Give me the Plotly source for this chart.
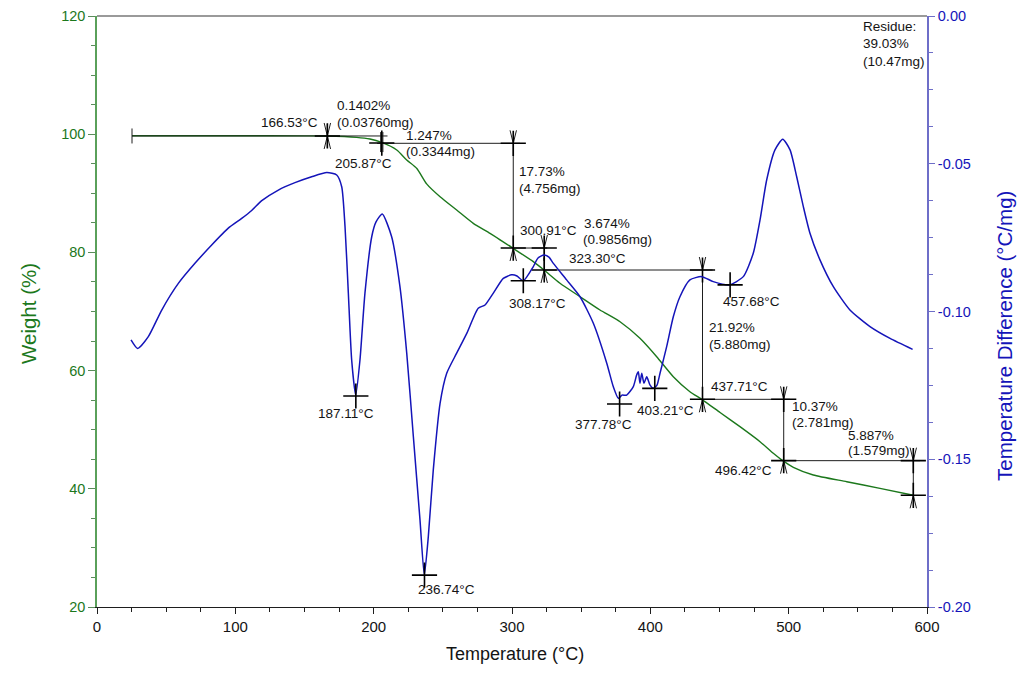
import plotly.graph_objects as go

# ---------------- data ----------------
# TGA weight curve (left axis)
tga_temp = [25.3, 60, 100, 150, 166.5, 187.7, 197.3, 205.8, 216.7, 223.9, 231.2, 238.3,
            248.0, 260.0, 272.0, 284.1, 300.5, 315.4, 323.1, 334.7, 349.2, 363.6, 378.1,
            392.5, 404.6, 416.6, 428.6, 437.1, 450.4, 464.8, 479.3, 488.9, 495.7, 503.4,
            517.8, 542.0, 566.0, 590.1]
tga_weight = [99.74, 99.74, 99.73, 99.72, 99.70, 99.47, 99.19, 98.60, 97.33, 95.63, 94.20, 91.60,
              89.42, 87.17, 84.92, 83.23, 80.74, 78.43, 77.02, 74.77, 72.50, 70.25, 68.27,
              65.46, 62.35, 58.97, 56.43, 55.14, 52.91, 50.51, 47.97, 46.01, 44.76, 43.64,
              42.34, 41.20, 40.08, 38.90]

# DTA curve (right axis)
dta_temp = [24.6, 29.4, 37.1, 46.8, 58.8, 70.8, 82.9, 94.9, 104.6, 111.8, 119.1, 131.1, 143.1,
            155.2, 166.1, 173.3, 176.9, 179.3, 181.7, 184.1, 187.0, 190.1, 193.7, 198.6, 201.7,
            206.2, 213.0, 219.0, 223.9, 228.7, 233.5, 236.6, 239.5, 243.1, 248.0, 252.8, 260.0,
            267.3, 275.6, 280.5, 286.5, 293.7, 299.8, 303.6, 308.2, 315.4, 318.8, 323.1, 326.7,
            329.9, 339.5, 349.2, 358.8, 368.5, 373.2, 376.9, 379.5, 382.9, 387.7, 390.1, 391.3,
            392.5, 393.8, 395.4, 397.4, 399.8, 402.2, 404.8, 407.0, 411.8, 416.6, 421.4, 428.6,
            437.1, 445.5, 457.1, 467.2, 474.4, 479.3, 484.1, 490.1, 495.7, 501.0, 505.8, 510.6,
            515.4, 522.7, 532.3, 544.3, 558.8, 573.3, 589.6]
dta_value = [-0.1096, -0.1125, -0.1085, -0.0995, -0.0905, -0.0837, -0.0775, -0.0718, -0.0685,
             -0.0658, -0.0625, -0.0589, -0.0564, -0.0544, -0.0530, -0.0538, -0.0578, -0.0713,
             -0.0938, -0.1164, -0.1283, -0.1164, -0.0938, -0.0747, -0.0697, -0.0670, -0.0747,
             -0.0916, -0.1141, -0.1424, -0.1706, -0.1892, -0.1762, -0.1536, -0.1311, -0.1209,
             -0.1141, -0.1074, -0.0989, -0.0978, -0.0938, -0.0888, -0.0876, -0.0880, -0.0896,
             -0.0848, -0.0819, -0.0809, -0.0816, -0.0837, -0.0893, -0.0950, -0.1040, -0.1175,
             -0.1254, -0.1294, -0.1283, -0.1283, -0.1254, -0.1215, -0.1204, -0.1243, -0.1209,
             -0.1243, -0.1221, -0.1249, -0.1260, -0.1249, -0.1209, -0.1119, -0.1018, -0.0950,
             -0.0893, -0.0882, -0.0899, -0.0910, -0.0882, -0.0803, -0.0690, -0.0555, -0.0453,
             -0.0417, -0.0453, -0.0544, -0.0645, -0.0735, -0.0826, -0.0916, -0.0995, -0.1051,
             -0.1091, -0.1128]

# measurement marks on TGA curve
tga_mark_temp = [166.53, 205.87, 300.91, 300.91, 323.30, 323.30, 437.71, 437.71, 496.42, 496.42, 590.1, 590.1]
tga_mark_weight = [99.70, 98.50, 98.46, 80.74, 80.74, 77.02, 77.02, 55.14, 55.14, 44.76, 44.76, 38.90]

# peak marks on DTA curve
dta_mark_temp = [187.11, 236.74, 308.17, 377.78, 403.21, 457.68]
dta_mark_value = [-0.1286, -0.1892, -0.0896, -0.1313, -0.1260, -0.0910]

# horizontal level lines: (start T, end T, weight)
level_start = [25.3, 202.5, 300.5, 323.3, 437.7, 496.4]
level_end = [210.0, 305.8, 325.5, 445.0, 500.9, 595.0]
level_weight = [99.70, 98.46, 80.74, 77.02, 55.14, 44.76]

# vertical step arrows: (T, upper weight, lower weight)
step_temp = [300.91, 323.30, 437.71, 496.42, 590.1]
step_top = [98.46, 80.74, 77.02, 55.14, 44.76]
step_bottom = [80.74, 77.02, 55.14, 44.76, 38.90]

# text labels: (text, T, weight, anchor)
label_text = ["166.53°C", "0.1402%", "(0.03760mg)", "205.87°C", "1.247%", "(0.3344mg)",
              "17.73%", "(4.756mg)", "300.91°C", "3.674%", "(0.9856mg)", "323.30°C",
              "308.17°C", "187.11°C", "236.74°C", "377.78°C", "403.21°C", "437.71°C",
              "21.92%", "(5.880mg)", "457.68°C", "10.37%", "(2.781mg)", "5.887%",
              "(1.579mg)", "496.42°C", "Residue:", "39.03%", "(10.47mg)"]
label_temp = [161.2, 172.0, 172.0, 170.4, 221.9, 221.9, 303.8, 303.8, 304.6, 350.4, 349.9, 339.5,
              296.2, 180.0, 253.0, 343.9, 388.9, 442.4, 441.2, 441.0, 451.1, 501.0, 501.0, 541.2,
              541.2, 445.5, 552.1, 552.1, 552.1]
label_weight = [101.9, 104.94, 101.95, 95.08, 99.86, 97.04, 93.65, 90.73, 83.79, 84.92, 82.10, 79.0,
                71.39, 52.8, 22.88, 50.8, 53.33, 57.39, 67.33, 64.5, 71.66, 54.0, 51.18, 49.1,
                46.45, 43.06, 118.19, 115.38, 112.27]
label_anchor = ["right"] + ["left"] * 12 + ["center", "center"] + ["left"] * 14

# axis ticks
dta_tick_vals = [0.0, -0.05, -0.10, -0.15, -0.20]
dta_tick_text = ["0.00", "-0.05", "-0.10", "-0.15", "-0.20"]

# ---------------- figure ----------------
# the page body has an 8px margin, so the figure is 16px smaller than the window
W, H = 1010, 659
ML, MR, MT, MB = 89, 91, 8, 60
px_per_T = (W - ML - MR) / 600.0
px_per_W = (H - MT - MB) / 100.0

GREEN = "rgb(28,120,28)"
BLUE = "rgb(20,20,185)"
FONT = "Liberation Sans, Arial, sans-serif"

fig = go.Figure()

fig.add_trace(go.Scatter(x=tga_temp, y=tga_weight, mode="lines",
                         line=dict(color=GREEN, width=1.4, shape="spline", smoothing=0.6),
                         hoverinfo="skip", showlegend=False))
fig.add_trace(go.Scatter(x=dta_temp, y=dta_value, mode="lines", yaxis="y2",
                         line=dict(color=BLUE, width=1.5, shape="spline", smoothing=0.6),
                         hoverinfo="skip", showlegend=False))

# construction lines
seg_x, seg_y = [], []
def seg(x0, y0, x1, y1):
    seg_x.extend([x0, x1, None]); seg_y.extend([y0, y1, None])

aT = 3.2 / px_per_T     # arrow half width in data units
aW = 13.0 / px_per_W    # arrow length in data units

def head(t, w, pointing_up):
    d = -aW if pointing_up else aW
    seg_x.extend([t - aT, t, t + aT, None]); seg_y.extend([w - d, w, w - d, None])

for s, e, w in zip(level_start, level_end, level_weight):
    seg(s, w, e, w)
# left end bar of the first level
seg(level_start[0], level_weight[0] - 7.5 / px_per_W, level_start[0], level_weight[0] + 7.5 / px_per_W)

for t, top, bot in zip(step_temp, step_top, step_bottom):
    seg(t, top, t, bot)
    head(t, top, True)
    head(t, bot, False)

# small converging arrows at 166.53 and double bar at 205.87
t0, w0 = tga_mark_temp[0], tga_mark_weight[0]
seg(t0, w0 + 12 / px_per_W, t0, w0 - 12 / px_per_W)
head(t0, w0, False)
head(t0, w0, True)
t1, w1 = tga_mark_temp[1], tga_mark_weight[1]
for off in (-0.8, 0.8):
    seg(t1 + off, w1 + 11 / px_per_W, t1 + off, w1 - 9 / px_per_W)

fig.add_trace(go.Scatter(x=seg_x, y=seg_y, mode="lines",
                         line=dict(color="rgb(30,30,30)", width=1),
                         hoverinfo="skip", showlegend=False))

fig.add_trace(go.Scatter(x=tga_mark_temp, y=tga_mark_weight, mode="markers",
                         marker=dict(symbol="cross-thin", size=18,
                                     line=dict(color="black", width=1.6)),
                         hoverinfo="skip", showlegend=False))
fig.add_trace(go.Scatter(x=dta_mark_temp, y=dta_mark_value, mode="markers", yaxis="y2",
                         marker=dict(symbol="cross-thin", size=18,
                                     line=dict(color="black", width=1.6)),
                         hoverinfo="skip", showlegend=False))

annotations = []
for txt, t, w, anc in zip(label_text, label_temp, label_weight, label_anchor):
    annotations.append(dict(x=t, y=w, xref="x", yref="y", text=txt, showarrow=False,
                            xanchor=anc, yanchor="middle",
                            font=dict(family=FONT, size=13.5, color="rgb(20,20,20)")))

# axis titles (positions in paper units of the plot area)
pw, ph = W - ML - MR, H - MT - MB
annotations.append(dict(x=(515 - 97) / pw, y=(607 - 654) / ph, xref="paper", yref="paper",
                        text="Temperature (°C)",
                        showarrow=False, xanchor="center", yanchor="middle",
                        font=dict(family=FONT, size=18, color="rgb(20,20,20)")))
annotations.append(dict(x=(28 - 97) / pw, y=(607 - 314) / ph, xref="paper", yref="paper",
                        text="Weight (%)",
                        showarrow=False, xanchor="center", yanchor="middle", textangle=-90,
                        font=dict(family=FONT, size=20.5, color=GREEN)))
annotations.append(dict(x=(1004 - 97) / pw, y=(607 - 336) / ph, xref="paper", yref="paper",
                        text="Temperature Difference (°C/mg)",
                        showarrow=False, xanchor="center", yanchor="middle", textangle=-90,
                        font=dict(family=FONT, size=20.5, color=BLUE)))

fig.update_layout(
    width=W, height=H,
    margin=dict(l=ML, r=MR, t=MT, b=MB, pad=0, autoexpand=False),
    paper_bgcolor="white", plot_bgcolor="white",
    showlegend=False,
    font=dict(family=FONT),
    annotations=annotations,
    shapes=[dict(type="line", xref="paper", yref="paper", x0=0, x1=1, y0=1, y1=1,
                 line=dict(color="rgb(120,120,120)", width=1.5))],
    xaxis=dict(range=[0, 600], dtick=100, tick0=0, showgrid=False, zeroline=False,
               automargin=False, ticklabeloverflow="allow",
               showline=True, linecolor="rgb(30,30,30)", linewidth=1.2,
               ticks="outside", ticklen=6, tickcolor="rgb(30,30,30)",
               tickfont=dict(family=FONT, size=15, color="rgb(20,20,20)"),
               minor=dict(dtick=25, ticks="outside", ticklen=4, tickcolor="rgb(30,30,30)")),
    yaxis=dict(range=[20, 120], dtick=20, tick0=0, showgrid=False, zeroline=False,
               automargin=False, ticklabeloverflow="allow",
               showline=True, linecolor="rgb(90,160,90)", linewidth=1.5,
               ticks="outside", ticklen=7, tickcolor="rgb(90,140,90)",
               tickfont=dict(family=FONT, size=14.5, color=GREEN),
               minor=dict(dtick=5, ticks="outside", ticklen=4, tickcolor="rgb(90,140,90)")),
    yaxis2=dict(range=[-0.2, 0.0], overlaying="y", side="right", showgrid=False,
                zeroline=False, automargin=False, ticklabeloverflow="allow",
                showline=True, linecolor="rgb(110,110,200)", linewidth=1.8,
                ticks="outside", ticklen=6, tickcolor="rgb(110,110,200)",
                tickvals=dta_tick_vals, ticktext=dta_tick_text,
                tickfont=dict(family=FONT, size=14.5, color=BLUE),
                minor=dict(dtick=0.0125, ticks="outside", ticklen=4,
                           tickcolor="rgb(110,110,200)")),
)

fig.write_html("out.html")
